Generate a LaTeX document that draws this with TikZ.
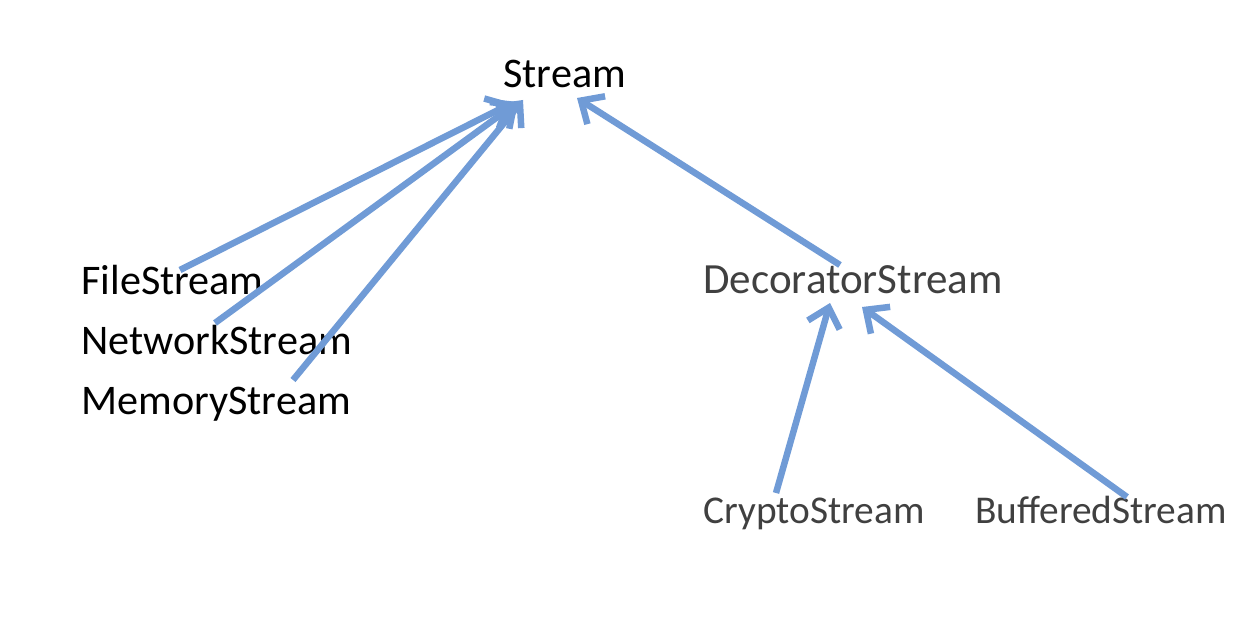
\documentclass[tikz,border=0pt]{standalone}
\usepackage{fontspec}
\setmainfont{Carlito}
\usetikzlibrary{arrows.meta}
\definecolor{linkblue}{RGB}{112,155,214}
\definecolor{txtgray}{RGB}{64,64,64}
\tikzset{
  cls/.style={inner sep=0pt,anchor=base west,font=\fontsize{24}{28}\selectfont},
  small cls/.style={cls,text=txtgray,font=\fontsize{22.4}{27}\selectfont},
  inherit/.style={draw=linkblue,line width=3.7pt,line cap=butt,
    -{Straight Barb[length=3.6mm,width=6.6mm,line width=3.7pt]}}
}
\begin{document}
\begin{tikzpicture}
\useasboundingbox (0,0) rectangle (25,12.46);

\node[cls] (stream) at (10.06,10.70) {Stream};
\node[cls] (file) at (1.62,6.58) {FileStream};
\node[cls] (network) at (1.62,5.38) {NetworkStream};
\node[cls] (memory) at (1.62,4.18) {MemoryStream};
\node[cls,text=txtgray,font=\fontsize{24.5}{28}\selectfont] (decorator) at (14.06,6.60) {DecoratorStream};
\node[small cls] (crypto) at (14.06,2.00) {CryptoStream};
\node[small cls] (buffered) at (19.50,2.00) {BufferedStream};

\coordinate (file-t) at (3.60,7.06);
\coordinate (network-t) at (4.30,6.00);
\coordinate (memory-t) at (5.86,4.86);
\coordinate (decorator-t) at (16.80,7.16);
\coordinate (crypto-t) at (15.52,2.60);
\coordinate (buffered-t) at (22.54,2.52);

\coordinate (stream-1) at (10.24,10.40);
\coordinate (stream-2) at (10.36,10.42);
\coordinate (stream-3) at (10.46,10.46);
\coordinate (stream-4) at (11.54,10.50);
\coordinate (decorator-1) at (16.60,6.40);
\coordinate (decorator-2) at (17.24,6.32);

\draw[inherit] (file-t) -- (stream-1);
\draw[inherit] (network-t) -- (stream-2);
\draw[inherit] (memory-t) -- (stream-3);
\draw[inherit] (decorator-t) -- (stream-4);
\draw[inherit] (crypto-t) -- (decorator-1);
\draw[inherit] (buffered-t) -- (decorator-2);
\end{tikzpicture}
\end{document}
